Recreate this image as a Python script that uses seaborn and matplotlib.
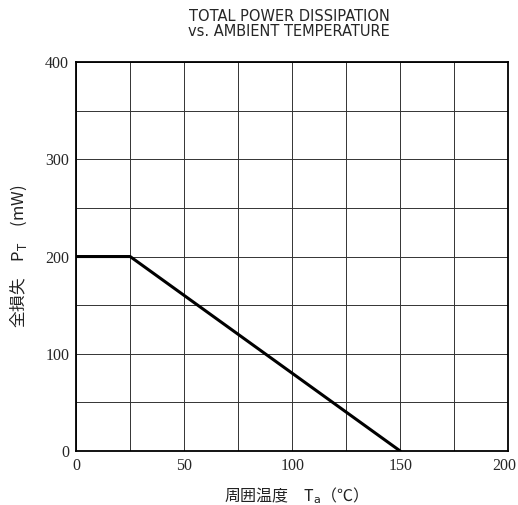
import matplotlib
matplotlib.use("Agg")
import matplotlib.pyplot as plt
import matplotlib.transforms as mtransforms
import seaborn as sns
import pandas as pd

# Derating curve
temp_c = [0, 25, 150]
power_mw = [200, 200, 0]
x_ticks = [0, 50, 100, 150, 200]
y_ticks = [0, 100, 200, 300, 400]

df = pd.DataFrame({"Ta": temp_c, "PT": power_mw})

sns.set_style("white")
plt.rcParams['font.family'] = ['Liberation Serif', 'Noto Sans CJK JP', 'DejaVu Sans']

fig = plt.figure(figsize=(5.18, 5.05), dpi=100)
ax = fig.add_axes([0.147, 0.107, 0.834, 0.770])

sns.lineplot(data=df, x="Ta", y="PT", ax=ax, color="black", linewidth=2.2)

ax.set_xlim(0, 200)
ax.set_ylim(0, 400)
ax.set_xticks(x_ticks)
ax.set_yticks(y_ticks)
ax.set_xticks(range(0, 201, 25), minor=True)
ax.set_yticks(range(0, 401, 50), minor=True)
ax.grid(True, which="both", color="#333333", linewidth=0.7)
ax.tick_params(which="both", length=0, labelsize=11.5, pad=5)
for s in ax.spines.values():
    s.set_color("black")
    s.set_linewidth(1.3)

# keep the last x tick label inside the figure
last = ax.get_xticklabels()[-1]
last.set_transform(last.get_transform() +
                   mtransforms.ScaledTranslation(-4 / 100, 0, fig.dpi_scale_trans))

ax.set_xlabel("周囲温度　T$_\\mathrm{a}$（℃）", fontsize=11.5, labelpad=8,
              family=['Noto Sans CJK JP', 'DejaVu Sans'], color="#222222")
ax.set_ylabel("全損失　P$_\\mathrm{T}$　(mW)", fontsize=12, labelpad=12,
              family=['Noto Sans CJK JP', 'DejaVu Sans'], color="#222222")
fig.text(0.558, 0.952, "TOTAL POWER DISSIPATION\nvs. AMBIENT TEMPERATURE",
         ha="center", va="center", fontsize=10.5, family="DejaVu Sans",
         linespacing=1.0)

fig.savefig("out.png", dpi=100)
